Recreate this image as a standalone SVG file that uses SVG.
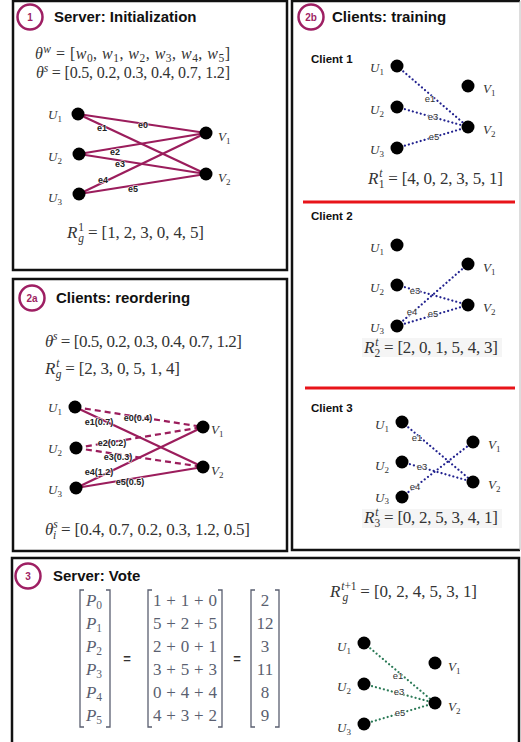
<svg xmlns="http://www.w3.org/2000/svg" width="521" height="742" viewBox="0 0 521 742">
<style>
.bg{fill:#fff}
.panel{fill:none;stroke:#111;stroke-width:2.5}
.badge{fill:#fff;stroke:#9e1f63;stroke-width:2.5}
.bt{font-family:"Liberation Sans",Arial,sans-serif;font-size:10px;font-weight:bold;fill:#9e1f63;text-anchor:middle}
.title{font-family:"Liberation Sans",Arial,sans-serif;font-size:15px;font-weight:bold;fill:#111}
.client{font-family:"Liberation Sans",Arial,sans-serif;font-size:11.5px;font-weight:bold;fill:#111}
.m{font-family:"Liberation Serif","DejaVu Serif",serif;font-size:17px;fill:#333}
.m16{font-size:16px}
.mg{font-family:"Liberation Serif","DejaVu Serif",serif;font-size:17px;fill:#5a5f70}
.i{font-style:italic}
.s{font-size:11.5px}
.nl{font-family:"Liberation Serif","DejaVu Serif",serif;font-size:13px;font-style:italic;fill:#333}
.ns{font-size:9px;font-style:normal}
.dot{fill:#000}
.ep{stroke:#9b1d5c;stroke-width:2.2;fill:none}
.epd{stroke:#9b1d5c;stroke-width:2.2;fill:none;stroke-dasharray:6 4}
.eb{stroke:#22228f;stroke-width:2.2;fill:none;stroke-dasharray:0.1 4;stroke-linecap:round}
.eg{stroke:#2b7a57;stroke-width:2.2;fill:none;stroke-dasharray:0.1 4;stroke-linecap:round}
.el{font-family:"Liberation Sans",Arial,sans-serif;font-size:9px;font-weight:bold;fill:#222;text-anchor:middle;paint-order:stroke;stroke:#fff;stroke-width:1.5;stroke-opacity:.7}
.el2{font-family:"Liberation Sans",Arial,sans-serif;font-size:9.5px;fill:#333;text-anchor:middle;paint-order:stroke;stroke:#fff;stroke-width:1.5;stroke-opacity:.7}
.red{stroke:#e8141a;stroke-width:3}
.br{fill:none;stroke:#5a5f70;stroke-width:1.3}
.eq{font-family:"Liberation Sans",Arial,sans-serif;font-size:13px;font-weight:bold;fill:#333;text-anchor:middle}
</style>
<rect class="bg" x="0" y="0" width="521" height="742"/>

<!-- Panel 1 -->
<g id="panel1">
<rect class="panel" x="13" y="1" width="274" height="269"/>
<circle class="badge" cx="30" cy="17" r="12.5"/>
<text class="bt" x="30" y="21">1</text>
<text class="title" x="54" y="22">Server: Initialization</text>
<text class="m m16" x="35" y="59" textLength="195" lengthAdjust="spacing"><tspan class="i">θ</tspan><tspan class="s i" dy="-6">w</tspan><tspan dy="6"> = [</tspan><tspan class="i">w</tspan><tspan class="s" dy="3">0</tspan><tspan dy="-3">, </tspan><tspan class="i">w</tspan><tspan class="s" dy="3">1</tspan><tspan dy="-3">, </tspan><tspan class="i">w</tspan><tspan class="s" dy="3">2</tspan><tspan dy="-3">, </tspan><tspan class="i">w</tspan><tspan class="s" dy="3">3</tspan><tspan dy="-3">, </tspan><tspan class="i">w</tspan><tspan class="s" dy="3">4</tspan><tspan dy="-3">, </tspan><tspan class="i">w</tspan><tspan class="s" dy="3">5</tspan><tspan dy="-3">]</tspan></text>
<text class="m m16" x="36" y="78" textLength="194" lengthAdjust="spacing"><tspan class="i">θ</tspan><tspan class="s i" dy="-6">s</tspan><tspan dy="6"> = [0.5, 0.2, 0.3, 0.4, 0.7, 1.2]</tspan></text>
<text class="m" x="67" y="238" textLength="137" lengthAdjust="spacing"><tspan class="i">R</tspan><tspan class="s" dx="1" dy="-7">1</tspan><tspan class="s i" dx="-5.5" dy="11">g</tspan><tspan dy="-4"> = [1, 2, 3, 0, 4, 5]</tspan></text>
</g>

<g id="p1-edges">
<line class="ep" x1="78" y1="114" x2="206" y2="133"/>
<line class="ep" x1="78" y1="114" x2="206" y2="174"/>
<line class="ep" x1="79" y1="154" x2="206" y2="133"/>
<line class="ep" x1="79" y1="154" x2="206" y2="174"/>
<line class="ep" x1="79" y1="194" x2="206" y2="133"/>
<line class="ep" x1="79" y1="194" x2="206" y2="174"/>
<text class="el" x="143" y="128">e0</text>
<text class="el" x="102" y="131">e1</text>
<text class="el" x="115" y="155">e2</text>
<text class="el" x="120" y="167">e3</text>
<text class="el" x="103" y="183">e4</text>
<text class="el" x="133" y="192">e5</text>
</g>
<g id="p1-U1"><circle class="dot" cx="78" cy="114" r="6.5"/><text class="nl" x="48" y="119">U<tspan class="ns" dy="3">1</tspan></text></g>
<g id="p1-U2"><circle class="dot" cx="79" cy="154" r="6.5"/><text class="nl" x="48" y="161">U<tspan class="ns" dy="3">2</tspan></text></g>
<g id="p1-U3"><circle class="dot" cx="79" cy="194" r="6.5"/><text class="nl" x="48" y="202">U<tspan class="ns" dy="3">3</tspan></text></g>
<g id="p1-V1"><circle class="dot" cx="206" cy="133" r="6.5"/><text class="nl" x="218" y="141">V<tspan class="ns" dy="3">1</tspan></text></g>
<g id="p1-V2"><circle class="dot" cx="206" cy="174" r="6.5"/><text class="nl" x="218" y="182">V<tspan class="ns" dy="3">2</tspan></text></g>

<!-- Panel 2a -->
<g id="panel2a">
<rect class="panel" x="13" y="279" width="274" height="272"/>
<circle class="badge" cx="32" cy="298" r="12.5"/>
<text class="bt" x="32" y="302">2a</text>
<text class="title" x="56" y="303">Clients: reordering</text>
<text class="m" x="45" y="347" textLength="197" lengthAdjust="spacing"><tspan class="i">θ</tspan><tspan class="s i" dy="-7">s</tspan><tspan dy="7"> = [0.5, 0.2, 0.3, 0.4, 0.7, 1.2]</tspan></text>
<text class="m" x="45" y="374" textLength="135" lengthAdjust="spacing"><tspan class="i">R</tspan><tspan class="s i" dx="1" dy="-7">t</tspan><tspan class="s i" dx="-3.5" dy="11">g</tspan><tspan dy="-4"> = [2, 3, 0, 5, 1, 4]</tspan></text>
<text class="m" x="45" y="535" textLength="205" lengthAdjust="spacing"><tspan class="i">θ</tspan><tspan class="s i" dy="-7">s</tspan><tspan class="s i" dx="-4.5" dy="11">i</tspan><tspan dy="-4" dx="1"> = [0.4, 0.7, 0.2, 0.3, 1.2, 0.5]</tspan></text>
</g>
<g id="p2a-edges">
<line class="epd" x1="75" y1="407" x2="203" y2="427"/>
<line class="ep" x1="75" y1="407" x2="203" y2="467"/>
<line class="epd" x1="76" y1="448" x2="203" y2="427"/>
<line class="epd" x1="76" y1="448" x2="203" y2="467"/>
<line class="ep" x1="76" y1="488" x2="203" y2="427"/>
<line class="ep" x1="76" y1="488" x2="203" y2="467"/>
<text class="el" x="138" y="421">e0(0.4)</text>
<text class="el" x="99" y="425">e1(0.7)</text>
<text class="el" x="112" y="446">e2(0.2)</text>
<text class="el" x="118" y="460">e3(0.3)</text>
<text class="el" x="99" y="475">e4(1.2)</text>
<text class="el" x="130" y="485">e5(0.5)</text>
</g>
<g id="p2a-U1"><circle class="dot" cx="75" cy="407" r="6.5"/><text class="nl" x="48" y="412">U<tspan class="ns" dy="3">1</tspan></text></g>
<g id="p2a-U2"><circle class="dot" cx="76" cy="448" r="6.5"/><text class="nl" x="48" y="453">U<tspan class="ns" dy="3">2</tspan></text></g>
<g id="p2a-U3"><circle class="dot" cx="76" cy="488" r="6.5"/><text class="nl" x="48" y="494">U<tspan class="ns" dy="3">3</tspan></text></g>
<g id="p2a-V1"><circle class="dot" cx="203" cy="427" r="6.5"/><text class="nl" x="211" y="434">V<tspan class="ns" dy="3">1</tspan></text></g>
<g id="p2a-V2"><circle class="dot" cx="203" cy="467" r="6.5"/><text class="nl" x="211" y="475">V<tspan class="ns" dy="3">2</tspan></text></g>

<!-- Panel 2b -->
<g id="panel2b">
<path class="panel" d="M520,1 H292 V550 H520"/>
<line x1="520" y1="1" x2="520" y2="550" stroke="#bbb" stroke-width="1"/>
<circle class="badge" cx="311" cy="17" r="12.5"/>
<text class="bt" x="311" y="21">2b</text>
<text class="title" x="332" y="22">Clients: training</text>
<text class="client" x="311" y="63">Client 1</text>
<text class="m" x="368" y="184" textLength="135" lengthAdjust="spacing"><tspan class="i">R</tspan><tspan class="s i" dx="1" dy="-7">t</tspan><tspan class="s" dx="-3.5" dy="11">1</tspan><tspan dy="-4"> = [4, 0, 2, 3, 5, 1]</tspan></text>
<line class="red" x1="303" y1="202" x2="515" y2="202"/>
<text class="client" x="311" y="220">Client 2</text>
<rect x="362" y="338" width="140" height="19" fill="#f5f5f5"/>
<text class="m" x="364" y="353" textLength="134" lengthAdjust="spacing"><tspan class="i">R</tspan><tspan class="s i" dx="1" dy="-7">t</tspan><tspan class="s" dx="-3.5" dy="11">2</tspan><tspan dy="-4"> = [2, 0, 1, 5, 4, 3]</tspan></text>
<line class="red" x1="305" y1="388" x2="515" y2="388"/>
<text class="client" x="311" y="412">Client 3</text>
<rect x="362" y="509" width="140" height="19" fill="#f5f5f5"/>
<text class="m" x="364" y="523" textLength="134" lengthAdjust="spacing"><tspan class="i">R</tspan><tspan class="s i" dx="1" dy="-7">t</tspan><tspan class="s" dx="-3.5" dy="11">3</tspan><tspan dy="-4"> = [0, 2, 5, 3, 4, 1]</tspan></text>
</g>
<g id="c1-edges">
<line class="eb" x1="397" y1="66" x2="468" y2="127"/>
<line class="eb" x1="397" y1="107" x2="468" y2="127"/>
<line class="eb" x1="397" y1="148" x2="468" y2="127"/>
<text class="el2" x="430" y="102">e1</text>
<text class="el2" x="433" y="120">e3</text>
<text class="el2" x="434" y="140">e5</text>
</g>
<g id="c1-U1"><circle class="dot" cx="397" cy="66" r="6.5"/><text class="nl" x="370" y="72">U<tspan class="ns" dy="3">1</tspan></text></g>
<g id="c1-U2"><circle class="dot" cx="397" cy="107" r="6.5"/><text class="nl" x="370" y="114">U<tspan class="ns" dy="3">2</tspan></text></g>
<g id="c1-U3"><circle class="dot" cx="397" cy="148" r="6.5"/><text class="nl" x="370" y="154">U<tspan class="ns" dy="3">3</tspan></text></g>
<g id="c1-V1"><circle class="dot" cx="468" cy="86" r="6.5"/><text class="nl" x="483" y="93">V<tspan class="ns" dy="3">1</tspan></text></g>
<g id="c1-V2"><circle class="dot" cx="468" cy="127" r="6.5"/><text class="nl" x="483" y="134">V<tspan class="ns" dy="3">2</tspan></text></g>

<g id="c2-edges">
<line class="eb" x1="397" y1="285" x2="468" y2="305"/>
<line class="eb" x1="397" y1="326" x2="468" y2="264"/>
<line class="eb" x1="397" y1="326" x2="468" y2="305"/>
<text class="el2" x="415" y="294">e3</text>
<text class="el2" x="412" y="315">e4</text>
<text class="el2" x="433" y="317">e5</text>
</g>
<g id="c2-U1"><circle class="dot" cx="397" cy="245" r="6.5"/><text class="nl" x="370" y="252">U<tspan class="ns" dy="3">1</tspan></text></g>
<g id="c2-U2"><circle class="dot" cx="397" cy="285" r="6.5"/><text class="nl" x="370" y="292">U<tspan class="ns" dy="3">2</tspan></text></g>
<g id="c2-U3"><circle class="dot" cx="397" cy="326" r="6.5"/><text class="nl" x="370" y="332">U<tspan class="ns" dy="2">3</tspan></text></g>
<g id="c2-V1"><circle class="dot" cx="468" cy="264" r="6.5"/><text class="nl" x="483" y="272">V<tspan class="ns" dy="3">1</tspan></text></g>
<g id="c2-V2"><circle class="dot" cx="468" cy="305" r="6.5"/><text class="nl" x="483" y="312">V<tspan class="ns" dy="3">2</tspan></text></g>

<g id="c3-edges">
<line class="eb" x1="402" y1="422" x2="473" y2="482"/>
<line class="eb" x1="402" y1="462" x2="473" y2="482"/>
<line class="eb" x1="402" y1="497" x2="473" y2="442"/>
<text class="el2" x="417" y="441">e1</text>
<text class="el2" x="422" y="470">e3</text>
<text class="el2" x="415" y="490">e4</text>
</g>
<g id="c3-U1"><circle class="dot" cx="402" cy="422" r="6.5"/><text class="nl" x="375" y="429">U<tspan class="ns" dy="3">1</tspan></text></g>
<g id="c3-U2"><circle class="dot" cx="402" cy="462" r="6.5"/><text class="nl" x="375" y="470">U<tspan class="ns" dy="3">2</tspan></text></g>
<g id="c3-U3"><circle class="dot" cx="402" cy="497" r="6.5"/><text class="nl" x="375" y="502">U<tspan class="ns" dy="2">3</tspan></text></g>
<g id="c3-V1"><circle class="dot" cx="473" cy="442" r="6.5"/><text class="nl" x="488" y="449">V<tspan class="ns" dy="3">1</tspan></text></g>
<g id="c3-V2"><circle class="dot" cx="473" cy="482" r="6.5"/><text class="nl" x="488" y="489">V<tspan class="ns" dy="3">2</tspan></text></g>

<!-- Panel 3 -->
<g id="panel3">
<rect class="panel" x="12" y="558" width="507" height="190"/>
<circle class="badge" cx="28" cy="576" r="12.5"/>
<text class="bt" x="28" y="580">3</text>
<text class="title" x="53" y="581">Server: Vote</text>
<path class="br" d="M84,590 H80 V727 H84 M106,590 H110 V727 H106"/>
<g class="mg" text-anchor="middle">
<text x="94" y="606"><tspan class="i">P</tspan><tspan class="s" dy="3">0</tspan></text>
<text x="94" y="629"><tspan class="i">P</tspan><tspan class="s" dy="3">1</tspan></text>
<text x="94" y="652"><tspan class="i">P</tspan><tspan class="s" dy="3">2</tspan></text>
<text x="94" y="675"><tspan class="i">P</tspan><tspan class="s" dy="3">3</tspan></text>
<text x="94" y="698"><tspan class="i">P</tspan><tspan class="s" dy="3">4</tspan></text>
<text x="94" y="721"><tspan class="i">P</tspan><tspan class="s" dy="3">5</tspan></text>
</g>
<text class="eq" x="127" y="663">=</text>
<path class="br" d="M152,590 H148 V727 H152 M218,590 H222 V727 H218"/>
<g class="mg" text-anchor="middle">
<text x="185" y="606" textLength="64" lengthAdjust="spacing">1 + 1 + 0</text>
<text x="185" y="629" textLength="64" lengthAdjust="spacing">5 + 2 + 5</text>
<text x="185" y="652" textLength="64" lengthAdjust="spacing">2 + 0 + 1</text>
<text x="185" y="675" textLength="64" lengthAdjust="spacing">3 + 5 + 3</text>
<text x="185" y="698" textLength="64" lengthAdjust="spacing">0 + 4 + 4</text>
<text x="185" y="721" textLength="64" lengthAdjust="spacing">4 + 3 + 2</text>
</g>
<text class="eq" x="237" y="663">=</text>
<path class="br" d="M255,590 H251 V727 H255 M275,590 H279 V727 H275"/>
<g class="mg" text-anchor="middle">
<text x="265" y="606">2</text>
<text x="265" y="629">12</text>
<text x="265" y="652">3</text>
<text x="265" y="675">11</text>
<text x="265" y="698">8</text>
<text x="265" y="721">9</text>
</g>
<text class="m" x="330" y="597" textLength="147" lengthAdjust="spacing"><tspan class="i">R</tspan><tspan class="s" dx="1" dy="-7"><tspan class="i">t</tspan>+1</tspan><tspan class="s i" dx="-14" dy="11">g</tspan><tspan dy="-4" dx="8"> = [0, 2, 4, 5, 3, 1]</tspan></text>
</g>
<g id="p3-edges">
<line class="eg" x1="364" y1="643" x2="435" y2="703"/>
<line class="eg" x1="364" y1="684" x2="435" y2="703"/>
<line class="eg" x1="364" y1="724" x2="435" y2="703"/>
<text class="el2" x="398" y="679">e1</text>
<text class="el2" x="399" y="695">e3</text>
<text class="el2" x="400" y="716">e5</text>
</g>
<g id="p3-U1"><circle class="dot" cx="364" cy="643" r="6.5"/><text class="nl" x="337" y="651">U<tspan class="ns" dy="3">1</tspan></text></g>
<g id="p3-U2"><circle class="dot" cx="364" cy="684" r="6.5"/><text class="nl" x="337" y="691">U<tspan class="ns" dy="3">2</tspan></text></g>
<g id="p3-U3"><circle class="dot" cx="364" cy="724" r="6.5"/><text class="nl" x="337" y="732">U<tspan class="ns" dy="3">3</tspan></text></g>
<g id="p3-V1"><circle class="dot" cx="435" cy="663" r="6.5"/><text class="nl" x="448" y="671">V<tspan class="ns" dy="3">1</tspan></text></g>
<g id="p3-V2"><circle class="dot" cx="435" cy="703" r="6.5"/><text class="nl" x="448" y="711">V<tspan class="ns" dy="3">2</tspan></text></g>
</svg>
